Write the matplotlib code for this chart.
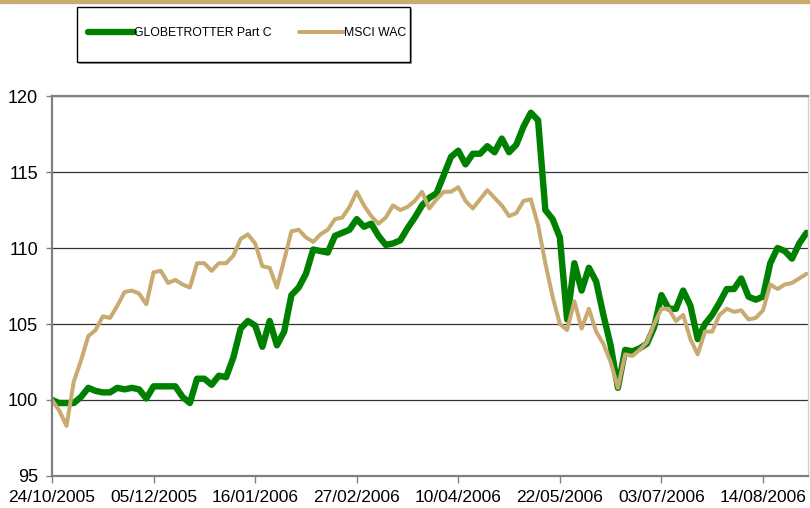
import pandas as pd
import matplotlib
matplotlib.use("Agg")
import matplotlib.pyplot as plt
from matplotlib.patches import Rectangle

# ---------------------------------------------------------------
#   DATA (one value every 3 days)
# ---------------------------------------------------------------
start_date = "2005-10-24"

globetrotter = [
    100.0, 99.8, 99.8, 99.8, 100.2, 100.8, 100.6, 100.5, 100.5, 100.8,
    100.7, 100.8, 100.7, 100.1, 100.9, 100.9, 100.9, 100.9, 100.2, 99.8,
    101.4, 101.4, 101.0, 101.6, 101.5, 102.8, 104.7, 105.2, 104.9, 103.5,
    105.2, 103.6, 104.5, 106.9, 107.4, 108.3, 109.9, 109.8, 109.7, 110.8,
    111.0, 111.2, 111.9, 111.4, 111.6, 110.8, 110.2, 110.3, 110.5, 111.3,
    112.0, 112.8, 113.3, 113.6, 114.8, 116.0, 116.4, 115.5, 116.2, 116.2,
    116.7, 116.3, 117.2, 116.3, 116.8, 118.0, 118.9, 118.4, 112.5, 111.9,
    110.7, 105.3, 109.0, 107.2, 108.7, 107.8, 105.6, 103.6, 100.8, 103.3,
    103.2, 103.4, 103.7, 104.8, 106.9, 106.0, 106.0, 107.2, 106.2, 104.0,
    105.0, 105.6, 106.4, 107.3, 107.3, 108.0, 106.8, 106.6, 106.8, 109.0,
    110.0, 109.8, 109.3, 110.3, 111.0,
]

msci_wac = [
    100.0, 99.3, 98.3, 101.2, 102.6, 104.2, 104.6, 105.5, 105.4, 106.2,
    107.1, 107.2, 107.0, 106.3, 108.4, 108.5, 107.7, 107.9, 107.6, 107.4,
    109.0, 109.0, 108.5, 109.0, 109.0, 109.5, 110.6, 110.9, 110.3, 108.8,
    108.7, 107.4, 109.2, 111.1, 111.2, 110.7, 110.4, 110.9, 111.2, 111.9,
    112.0, 112.7, 113.7, 112.8, 112.1, 111.6, 112.0, 112.8, 112.5, 112.7,
    113.1, 113.7, 112.6, 113.2, 113.7, 113.7, 114.0, 113.1, 112.6, 113.2,
    113.8, 113.3, 112.8, 112.1, 112.3, 113.1, 113.2, 111.5, 109.0, 106.8,
    105.0, 104.6, 106.5, 104.7, 106.0, 104.5, 103.7, 102.5, 100.8, 103.0,
    102.9, 103.3, 103.8, 105.0, 106.0, 106.0, 105.2, 105.6, 104.0, 103.0,
    104.5, 104.5, 105.6, 106.0, 105.8, 105.9, 105.3, 105.4, 105.9, 107.6,
    107.3, 107.6, 107.7, 108.0, 108.3,
]

tick_labels = ["24/10/2005", "05/12/2005", "16/01/2006", "27/02/2006",
               "10/04/2006", "22/05/2006", "03/07/2006", "14/08/2006"]
y_ticks = [95, 100, 105, 110, 115, 120]

dates = pd.date_range(start_date, periods=len(globetrotter), freq="3D")
tick_dates = pd.to_datetime(tick_labels, format="%d/%m/%Y")

GREEN = "#008000"
GOLD = "#C9AB72"

# ---------------------------------------------------------------
#   FIGURE
# ---------------------------------------------------------------
plt.rcParams["font.family"] = ["Liberation Sans", "DejaVu Sans"]

fig = plt.figure(figsize=(8.10, 5.08), dpi=100)
ax = fig.add_axes([0.0642, 0.063, 0.9333, 0.748])

ax.plot(dates, globetrotter, color=GREEN, lw=4.6, solid_capstyle="round",
        solid_joinstyle="round", label="GLOBETROTTER Part C")
ax.plot(dates, msci_wac, color=GOLD, lw=2.9, solid_capstyle="round",
        solid_joinstyle="round", label="MSCI WAC")

ax.set_ylim(95, 120)
ax.set_xlim(pd.Timestamp(start_date), pd.Timestamp(start_date) + pd.Timedelta(days=312.6))
ax.set_yticks(y_ticks)
ax.set_xticks(tick_dates)
ax.set_xticklabels(tick_labels, fontsize=12.5)
ax.tick_params(axis="y", labelsize=13, length=4, width=1, color="#808080", pad=6)
ax.tick_params(axis="x", length=5, width=1, color="#808080", pad=5)

ax.yaxis.grid(True, color="#333333", lw=0.9)
ax.set_axisbelow(True)

for side in ["left", "bottom", "top"]:
    ax.spines[side].set_color("#808080")
    ax.spines[side].set_linewidth(1.6)
ax.spines["right"].set_color("#d0d0d0")
ax.spines["right"].set_linewidth(1.0)

# gold band at the very top
fig.patches.append(Rectangle((0, 1 - 3 / 508), 1, 3 / 508, transform=fig.transFigure,
                             color=GOLD, zorder=0))

# legend box with a small shadow
x0, y0, w, h = 77 / 810, 1 - 62 / 508, 333 / 810, 55 / 508
fig.patches.append(Rectangle((x0 + 2 / 810, y0 - 2 / 508), w, h, transform=fig.transFigure,
                             facecolor="#9a9a9a", edgecolor="none", zorder=1))
fig.patches.append(Rectangle((x0, y0), w, h, transform=fig.transFigure,
                             facecolor="white", edgecolor="black", lw=1.0, zorder=2))
leg = fig.legend(loc="center", bbox_to_anchor=(x0 + w / 2 + 4 / 810, y0 + h / 2 + 1 / 508),
                 ncol=2, frameon=False, handlelength=3.7, handletextpad=0.0,
                 columnspacing=2.3, fontsize=8.8)
leg.set_zorder(3)

fig.savefig("out.png", dpi=100)
